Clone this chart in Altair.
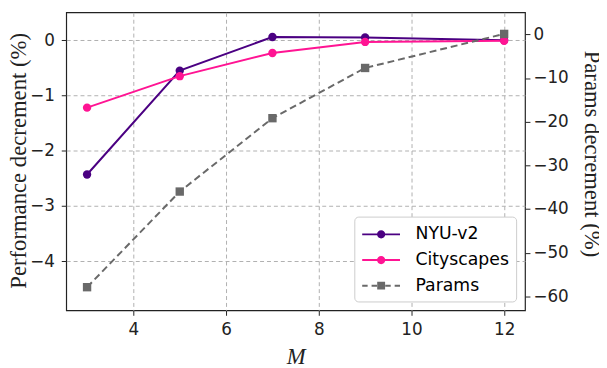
import altair as alt
import pandas as pd

M = [3, 5, 7, 9, 12]
nyu = [-2.43, -0.55, 0.06, 0.05, 0.0]
city = [-1.22, -0.65, -0.23, -0.03, -0.01]
params = [-57.9, -36.0, -19.2, -7.7, 0.1]

series = ["NYU-v2", "Cityscapes", "Params"]
colors = ["#4B0082", "#FF1493", "#696969"]

perf = pd.DataFrame({
    "M": M * 2,
    "value": nyu + city,
    "series": ["NYU-v2"] * len(M) + ["Cityscapes"] * len(M),
})
par = pd.DataFrame({"M": M, "value": params, "series": ["Params"] * len(M)})
leg = pd.DataFrame({"series": series})

# legend glyphs (filled paths): line with marker, unit = 10px, centre at x=0
h = 0.1
x0, x1, cx, r = -1.0, 2.83, 0.92, 0.42
line_path = (f"M{x0},-{h}H{x1}V{h}H{x0}Z"
             f"M{cx + r},0A{r},{r},0,1,1,{cx - r},0A{r},{r},0,1,1,{cx + r},0Z")
dash_path = (f"M{x0},-{h}H-0.45V{h}H{x0}Z"
             f"M-0.05,-{h}H0.5V{h}H-0.05Z"
             f"M1.34,-{h}H1.89V{h}H1.34Z"
             f"M2.29,-{h}H{x1}V{h}H2.29Z"
             f"M{cx - 0.4},-0.4H{cx + 0.4}V0.4H{cx - 0.4}Z")

SERIF = "Liberation Serif"
SANS = "DejaVu Sans"

legend = alt.Legend(
    title=None, orient="bottom-right", offset=9,
    fillColor="white", strokeColor="#cccccc", cornerRadius=4, padding=7,
    labelFont=SANS, labelFontSize=17.5, labelColor="black",
    symbolSize=400, rowPadding=6, labelOffset=33,
)

x = alt.X("M:Q", scale=alt.Scale(domain=[2.55, 12.45], nice=False, zero=False),
          axis=alt.Axis(values=[4, 6, 8, 10, 12], title="M", titleFontStyle="italic",
                        titleFont=SERIF, labelFont=SANS,
                        grid=True, labelPadding=6, titlePadding=9))

left_y = alt.Y("value:Q", scale=alt.Scale(domain=[-4.89, 0.505], nice=False, zero=False),
               axis=alt.Axis(values=[-4, -3, -2, -1, 0], title="Performance decrement (%)",
                             titleFont=SERIF, labelFont=SANS, titleX=-36, titleY=150,
                             grid=True, orient="left", labelPadding=7))
right_y = alt.Y("value:Q", scale=alt.Scale(domain=[-63.2, 5.03], nice=False, zero=False),
                axis=alt.Axis(values=[-60, -50, -40, -30, -20, -10, 0],
                              title="Params decrement (%)", grid=False, orient="right",
                              titleFont=SERIF, labelFont=SANS, titleX=55, titleY=143,
                              labelPadding=3))

# data layers use a scale with a different domain order so they never merge with the legend
data_order = ["Cityscapes", "NYU-v2", "Params"]
data_scale = alt.Scale(domain=data_order,
                       range=[colors[series.index(s)] for s in data_order])
stroke_enc = alt.Stroke("series:N", scale=data_scale, legend=None)
fill_enc = alt.Fill("series:N", scale=data_scale, legend=None)

base_perf = alt.Chart(perf)
perf_line = base_perf.mark_line(strokeWidth=2).encode(x=x, y=left_y, stroke=stroke_enc)
perf_pts = base_perf.mark_point(filled=True, shape="circle", size=72, opacity=1,
                                strokeWidth=0).encode(x=x, y=left_y, fill=fill_enc)
left = alt.layer(perf_line, perf_pts)

base_par = alt.Chart(par)
par_line = base_par.mark_line(strokeWidth=2, strokeDash=[7, 4]).encode(
    x=x, y=right_y, stroke=stroke_enc)
par_pts = base_par.mark_point(filled=True, shape="square", size=72, opacity=1,
                              strokeWidth=0).encode(x=x, y=right_y, fill=fill_enc)
right = alt.layer(par_line, par_pts)

legend_layer = alt.Chart(leg).mark_point(filled=True, size=10, opacity=1).encode(
    x=alt.value(-2000), y=alt.value(-2000),
    color=alt.Color("series:N", scale=alt.Scale(domain=series, range=colors),
                    legend=legend, sort=series),
    shape=alt.Shape("series:N", scale=alt.Scale(domain=series,
                                                range=[line_path, line_path, dash_path]),
                    legend=legend, sort=series),
)

chart = alt.layer(left, right, legend_layer).resolve_scale(y="independent").properties(
    width=465, height=302,
    autosize=alt.AutoSizeParams(type="none"),
    padding={"left": 59, "top": 2, "right": 75, "bottom": 56},
).configure_view(stroke="#222222", strokeWidth=1.2).configure_axis(
    labelFontSize=17, labelColor="#222222",
    titleFontSize=23, titleFontWeight="normal",
    titleColor="#222222", tickColor="#222222", tickSize=5,
    domain=False, gridColor="#b0b0b0", gridDash=[4, 3], gridWidth=1,
)

chart.save("out.html", embed_options={"renderer": "svg", "actions": False})
